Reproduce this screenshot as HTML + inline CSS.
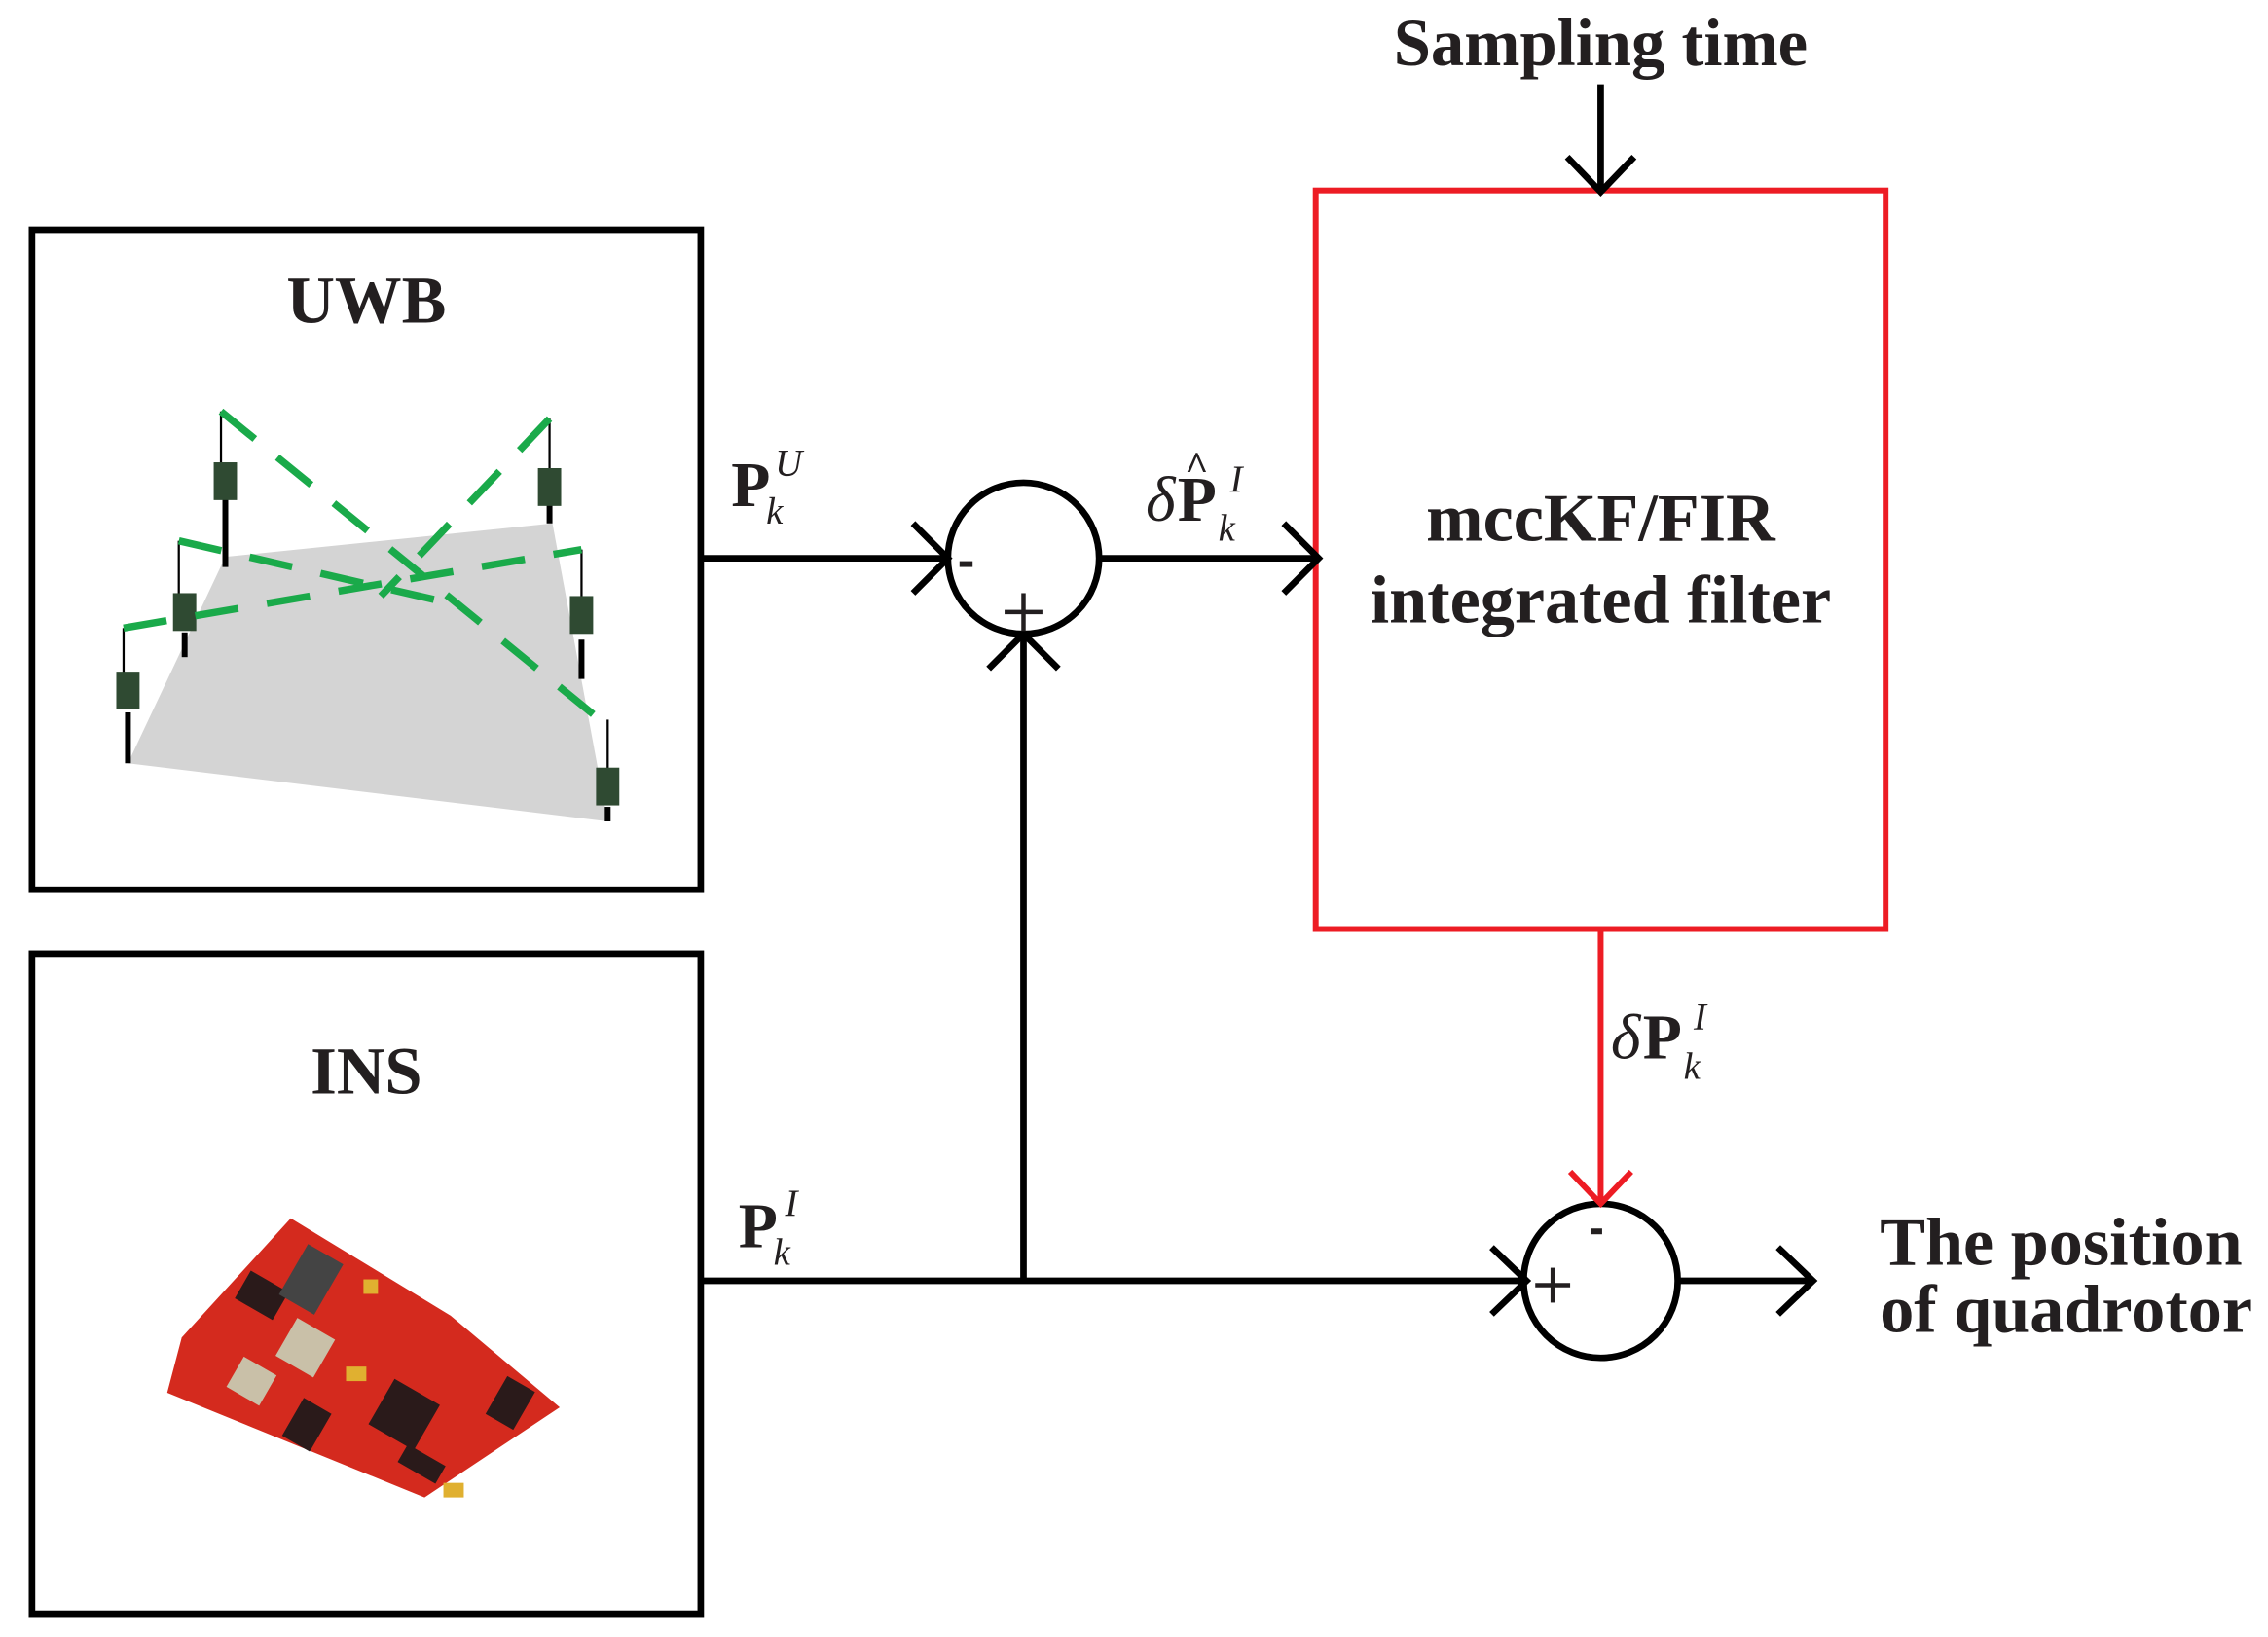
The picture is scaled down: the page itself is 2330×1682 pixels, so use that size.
<!DOCTYPE html>
<html><head><meta charset="utf-8"><style>
html,body{margin:0;padding:0;background:#fff}
svg{display:block}
text{font-family:"Liberation Serif",serif;fill:#231f20}
</style></head><body>
<svg width="2330" height="1682" viewBox="0 0 1560 1126" preserveAspectRatio="none">
<rect x="22" y="158" width="460" height="454" fill="none" stroke="#000" stroke-width="4.5"/>
<rect x="22" y="656" width="460" height="454" fill="none" stroke="#000" stroke-width="4.5"/>
<rect x="905" y="131" width="392" height="508" fill="none" stroke="#ed1c24" stroke-width="4"/>
<text x="1101" y="45" font-size="46" font-weight="bold" text-anchor="middle">Sampling time</text>
<text x="252" y="222" font-size="46" font-weight="bold" text-anchor="middle">UWB</text>
<text x="252" y="752" font-size="46" font-weight="bold" text-anchor="middle">INS</text>
<text x="1101" y="372" font-size="47" font-weight="bold" text-anchor="middle">mccKF/FIR</text>
<text x="1101" y="428" font-size="47" font-weight="bold" text-anchor="middle">integrated filter</text>
<text x="1293" y="870" font-size="47" font-weight="bold">The position</text>
<text x="1293" y="916" font-size="47" font-weight="bold">of quadrotor</text>
<text x="503" y="348" font-size="44" font-weight="bold">P</text>
<text x="527" y="360" font-size="26" font-style="italic">k</text>
<text x="533" y="327" font-size="26" font-style="italic">U</text>
<text x="788" y="358" font-size="44" font-style="italic">δ</text>
<text x="810" y="358" font-size="44" font-weight="bold">P</text>
<text x="815" y="330" font-size="28" font-weight="bold">^</text>
<text x="838" y="372" font-size="26" font-style="italic">k</text>
<text x="846" y="338" font-size="26" font-style="italic">I</text>
<text x="1108" y="728" font-size="44" font-style="italic">δ</text>
<text x="1130" y="728" font-size="44" font-weight="bold">P</text>
<text x="1158" y="742" font-size="26" font-style="italic">k</text>
<text x="1165" y="708" font-size="26" font-style="italic">I</text>
<text x="508" y="858" font-size="44" font-weight="bold">P</text>
<text x="532" y="870" font-size="26" font-style="italic">k</text>
<text x="540" y="836" font-size="26" font-style="italic">I</text>
<g stroke="#000" stroke-width="4.5" fill="none">
<line x1="482" y1="384" x2="650" y2="384"/>
<polyline points="628,360 652,384 628,408"/>
<line x1="757" y1="384" x2="905" y2="384"/>
<polyline points="883,360 907,384 883,408"/>
<line x1="704" y1="881" x2="704" y2="438"/>
<polyline points="680,460 704,436 728,460"/>
<line x1="482" y1="881" x2="1046" y2="881"/>
<polyline points="1026,858 1050,881 1026,904"/>
<line x1="1155" y1="881" x2="1245" y2="881"/>
<polyline points="1223,858 1247,881 1223,904"/>
<line x1="1101" y1="58" x2="1101" y2="130"/>
<polyline points="1078,108 1101,132 1124,108"/>
<circle cx="704" cy="384" r="52"/>
<circle cx="1101" cy="881" r="53"/>
</g>
<g stroke="#231f20" stroke-width="3">
<line x1="691" y1="421" x2="717" y2="421"/><line x1="704" y1="408" x2="704" y2="434"/>
<line x1="1056" y1="884" x2="1080" y2="884"/><line x1="1068" y1="872" x2="1068" y2="896"/>
</g>
<g stroke="#ed1c24" stroke-width="4" fill="none">
<line x1="1101" y1="639" x2="1101" y2="826"/>
<polyline points="1080,806 1101,828 1122,806"/>
</g>
<rect x="660" y="386" width="9" height="4" fill="#231f20"/>
<rect x="1094" y="845" width="8" height="4" fill="#231f20"/>
<polygon points="88,525 155,383 380,360 418,565" fill="#d4d4d4"/>
<g stroke="#000" stroke-width="1.5">
<line x1="152" y1="283" x2="152" y2="320"/><line x1="378" y1="288" x2="378" y2="325"/>
<line x1="123" y1="372" x2="123" y2="410"/><line x1="400" y1="378" x2="400" y2="412"/>
<line x1="85" y1="432" x2="85" y2="465"/><line x1="418" y1="495" x2="418" y2="530"/>
</g>
<g stroke="#000" stroke-width="4">
<line x1="155" y1="340" x2="155" y2="390"/><line x1="378" y1="345" x2="378" y2="360"/>
<line x1="127" y1="435" x2="127" y2="452"/><line x1="400" y1="440" x2="400" y2="467"/>
<line x1="88" y1="490" x2="88" y2="525"/><line x1="418" y1="555" x2="418" y2="565"/>
</g>
<g fill="#2f4a32">
<rect x="147" y="318" width="16" height="26"/><rect x="370" y="322" width="16" height="26"/>
<rect x="119" y="408" width="16" height="26"/><rect x="392" y="410" width="16" height="26"/>
<rect x="80" y="462" width="16" height="26"/><rect x="410" y="528" width="16" height="26"/>
</g>
<g stroke="#1aaa4a" stroke-width="5" stroke-dasharray="30,20" fill="none">
<line x1="152" y1="283" x2="415" y2="497"/>
<line x1="378" y1="288" x2="262" y2="410"/>
<line x1="123" y1="372" x2="310" y2="415"/>
<line x1="85" y1="432" x2="400" y2="378"/>
</g>
<polygon points="200,838 310,905 385,968 292,1030 115,958 125,920" fill="#d42a1e"/>
<g fill="#2a1a1a">
<rect x="260" y="955" width="36" height="36" transform="rotate(30 278 973)"/>
<rect x="165" y="880" width="30" height="22" transform="rotate(30 180 891)"/>
<rect x="200" y="860" width="28" height="40" transform="rotate(30 214 880)" fill="#444"/>
<rect x="340" y="950" width="22" height="30" transform="rotate(30 351 965)"/>
<rect x="275" y="1000" width="30" height="14" transform="rotate(30 290 1007)"/>
<rect x="200" y="965" width="22" height="30" transform="rotate(30 211 980)"/>
</g>
<g fill="#c9c0a8">
<rect x="195" y="912" width="30" height="30" transform="rotate(30 210 927)"/>
<rect x="160" y="938" width="26" height="24" transform="rotate(30 173 950)"/>
</g>
<g fill="#e0b030">
<rect x="238" y="940" width="14" height="10"/><rect x="305" y="1020" width="14" height="10"/><rect x="250" y="880" width="10" height="10"/>
</g>
</svg>
</body></html>
